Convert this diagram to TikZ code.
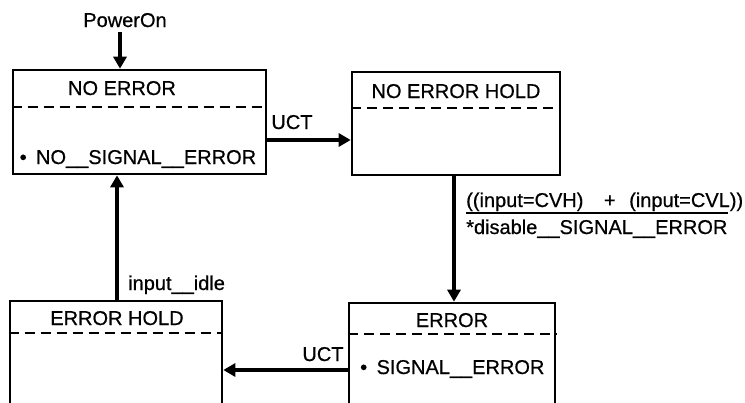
\documentclass[tikz,border=0pt]{standalone}
\usepackage{fontspec}
\setmainfont[FakeBold=0.6]{Liberation Sans}
\usetikzlibrary{arrows.meta}
\begin{document}
\begin{tikzpicture}[x=1pt,y=-1pt,
  box/.style={draw, line width=2.6pt, inner sep=0pt},
  lbl/.style={inner sep=0pt, font=\fontsize{20}{24}\selectfont},
  sep/.style={line width=1.9pt, dash pattern=on 10pt off 6pt},
  conn/.style={line width=3.2pt, -{Triangle[length=12pt,width=13pt]}}]
\clip (0,0) rectangle (745,402);
\fill[white] (0,0) rectangle (745,402);

% boxes
\node[box, minimum width=253pt, minimum height=104pt] (ne) at (139.5,122) {};
\node[box, minimum width=208pt, minimum height=103pt] (neh) at (456,123.5) {};
\node[box, minimum width=206pt, minimum height=147pt] (err) at (452,376.5) {};
\node[box, minimum width=212pt, minimum height=149pt] (eh) at (116,375.5) {};

% separators
\draw[sep] (ne.west |- 0,107) -- (ne.east |- 0,107);
\draw[sep] (neh.west |- 0,108) -- (neh.east |- 0,108);
\draw[sep] (err.west |- 0,334) -- (err.east |- 0,334);
\draw[sep] (eh.west |- 0,333) -- (eh.east |- 0,333);

% titles and contents
\node[lbl, anchor=base] (neT) at (122,95) {NO ERROR};
\node[lbl, anchor=base west] (neC) at (19.5,164) {\textbullet\hspace{0.47em}NO\_\_SIGNAL\_\_ERROR};
\node[lbl, anchor=base] (nehT) at (456,98) {NO ERROR HOLD};
\node[lbl, anchor=base] (errT) at (452,327) {ERROR};
\node[lbl, anchor=base west] (errC) at (360,374) {\textbullet\hspace{0.47em}SIGNAL\_\_ERROR};
\node[lbl, anchor=base] (ehT) at (117,325) {ERROR HOLD};

% labels
\node[lbl, anchor=base] (pwr) at (125,27) {PowerOn};
\node[lbl, anchor=base] (uct1) at (292,129) {UCT};
\node[lbl, anchor=base] (uct2) at (323,361) {UCT};
\node[lbl, anchor=base west] (idle) at (128,290) {input\_\_idle};
\node[lbl, anchor=base west] (cond) at (466,207) {((input=CVH)\hspace{15pt} + \hspace{8pt}(input=CVL))};
\node[lbl, anchor=base west] (act) at (466,234) {*disable\_\_SIGNAL\_\_ERROR};
\draw[line width=1.5pt] (act.west |- 0,213) -- (act.east |- 0,213);

% connectors
\coordinate (pwrEnd) at ([yshift=-5pt]pwr.base);
\draw[conn] (pwrEnd -| 120,0) -- (ne.north -| 120,0);
\draw[conn] (ne.east |- 0,140) -- (neh.west |- 0,140);
\draw[conn] (neh.south -| 454,0) -- (err.north -| 454,0);
\draw[conn] (err.west |- 0,370) -- (eh.east |- 0,370);
\draw[conn] (eh.north -| 117,0) -- (ne.south -| 117,0);
\end{tikzpicture}
\end{document}
